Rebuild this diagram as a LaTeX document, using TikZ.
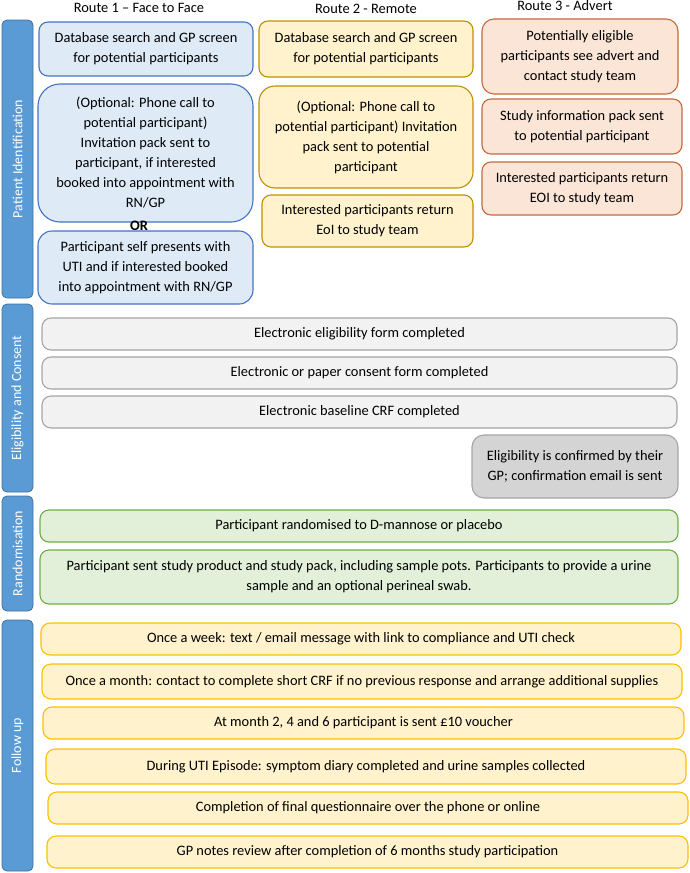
\documentclass[tikz,border=0pt]{standalone}
\usepackage{fontspec}
\setmainfont{Carlito}
\usetikzlibrary{positioning}

% 颜色定义
\definecolor{barfill}{HTML}{5B9BD5}
\definecolor{barline}{HTML}{41719C}
\definecolor{onefill}{HTML}{DEEBF7}
\definecolor{oneline}{HTML}{4472C4}
\definecolor{twofill}{HTML}{FFF2CC}
\definecolor{twoline}{HTML}{BF9000}
\definecolor{threefill}{HTML}{FBE5D6}
\definecolor{threeline}{HTML}{C5693A}
\definecolor{eligfill}{HTML}{F2F2F2}
\definecolor{eligline}{HTML}{A5A5A5}
\definecolor{gpfill}{HTML}{D4D4D4}
\definecolor{randfill}{HTML}{E2F0D9}
\definecolor{randline}{HTML}{70AD47}
\definecolor{follfill}{HTML}{FFF2CC}
\definecolor{follline}{HTML}{FFC000}

\tikzset{
  % 所有方框的公共样式
  stage/.style={rounded corners=9pt, line width=1.1pt, align=center, inner sep=0pt,
    font=\fontsize{14.4}{20}\selectfont},
  onebox/.style={stage, fill=onefill, draw=oneline},
  twobox/.style={stage, fill=twofill, draw=twoline},
  threebox/.style={stage, fill=threefill, draw=threeline},
  eligbox/.style={stage, fill=eligfill, draw=eligline},
  gpbox/.style={stage, fill=gpfill, draw=eligline},
  randbox/.style={stage, fill=randfill, draw=randline},
  follbox/.style={stage, fill=follfill, draw=follline},
  % 左侧竖条,文字旋转90度
  phase/.style={rounded corners=5pt, line width=0.8pt, fill=barfill, draw=barline,
    text=white, rotate=90, inner sep=0pt, minimum height=31pt,
    font=\fontsize{14}{16}\selectfont},
  % 每列的标题
  routehead/.style={font=\fontsize{14.4}{16}\selectfont, inner sep=0pt}
}

\begin{document}
\begin{tikzpicture}[x=1pt,y=-1pt]  % 一个单位就是一个像素, y 轴向下

  % 固定画布大小
  \useasboundingbox (0,0) rectangle (689,873);

  % 三条路线的标题
  \node[routehead] (head1) at (139,8) {Route 1 – Face to Face};
  \node[routehead] (head2) at (366,9) {Route 2 - Remote};
  \node[routehead] (head3) at (565,6) {Route 3 - Advert};

  % 左边的四个阶段竖条
  \node[phase, minimum width=278pt] (patid) at (17.5,159) {Patient Identification};
  \node[phase, minimum width=188pt] (elig) at (17.5,398) {Eligibility and Consent};
  \node[phase, minimum width=115pt] (rand) at (17.5,553.5) {Randomisation};
  \node[phase, minimum width=251pt] (follow) at (17.5,745.5) {Follow up};

  % 路线1: 面对面
  \node[onebox, minimum width=214pt, minimum height=54pt] (oneA) at (146,49)
    {Database search and GP screen\\for potential participants};
  \node[onebox, rounded corners=22pt, minimum width=215pt, minimum height=138pt] (oneB) at (145.5,153)
    {(Optional: Phone call to\\potential participant)\\Invitation pack sent to\\participant, if interested\\booked into appointment with\\RN/GP};
  % 两个方框中间的 OR
  \node[routehead, font=\fontsize{14.4}{16}\selectfont\bfseries] (orword) at (139,226) {OR};
  \node[onebox, rounded corners=14pt, minimum width=215pt, minimum height=73pt] (oneC) at (145.5,267.5)
    {Participant self presents with\\UTI and if interested booked\\into appointment with RN/GP};

  % 路线2: 远程
  \node[twobox, minimum width=214pt, minimum height=56pt] (twoA) at (366,49)
    {Database search and GP screen\\for potential participants};
  \node[twobox, rounded corners=16pt, minimum width=214pt, minimum height=102pt] (twoB) at (366,137)
    {(Optional: Phone call to\\potential participant) Invitation\\pack sent to potential\\participant};
  \node[twobox, minimum width=211pt, minimum height=52pt] (twoC) at (367.5,221)
    {Interested participants return\\EoI to study team};

  % 路线3: 广告
  \node[threebox, rounded corners=12pt, minimum width=196pt, minimum height=75pt] (threeA) at (580,56.5)
    {Potentially eligible\\participants see advert and\\contact study team};
  \node[threebox, minimum width=200pt, minimum height=55pt] (threeB) at (582,126.5)
    {Study information pack sent\\to potential participant};
  \node[threebox, minimum width=200pt, minimum height=53pt] (threeC) at (582,188.5)
    {Interested participants return\\EOI to study team};

  % 资格和同意
  \node[eligbox, minimum width=635pt, minimum height=32pt] (eligA) at (359.5,334)
    {Electronic eligibility form completed};
  \node[eligbox, minimum width=635pt, minimum height=32pt] (eligB) at (359.5,373)
    {Electronic or paper consent form completed};
  \node[eligbox, minimum width=635pt, minimum height=32pt] (eligC) at (359.5,412)
    {Electronic baseline CRF completed};
  \node[gpbox, rounded corners=12pt, minimum width=206pt, minimum height=63pt] (gpcheck) at (575,466.5)
    {Eligibility is confirmed by their\\GP; confirmation email is sent};

  % 随机分组
  \node[randbox, minimum width=638pt, minimum height=32pt] (randA) at (359,526)
    {Participant randomised to D-mannose or placebo};
  \node[randbox, minimum width=638pt, minimum height=54pt] (randB) at (359,577)
    {Participant sent study product and study pack, including sample pots. Participants to provide a urine\\sample and an optional perineal swab.};

  % 随访, 每个方框稍微往右偏一点
  \node[follbox, minimum width=640pt, minimum height=32pt] (follA) at (361,639)
    {Once a week: text / email message with link to compliance and UTI check};
  \node[follbox, minimum width=640pt, minimum height=35pt] (follB) at (362,681.5)
    {Once a month: contact to complete short CRF if no previous response and arrange additional supplies};
  \node[follbox, minimum width=641pt, minimum height=32pt] (follC) at (363.5,723)
    {At month 2, 4 and 6 participant is sent £10 voucher};
  \node[follbox, minimum width=640pt, minimum height=35pt] (follD) at (366,766.5)
    {During UTI Episode: symptom diary completed and urine samples collected};
  \node[follbox, minimum width=640pt, minimum height=32pt] (follE) at (368,808)
    {Completion of final questionnaire over the phone or online};
  \node[follbox, minimum width=641pt, minimum height=32pt] (follF) at (367.5,852)
    {GP notes review after completion of 6 months study participation};

\end{tikzpicture}
\end{document}
